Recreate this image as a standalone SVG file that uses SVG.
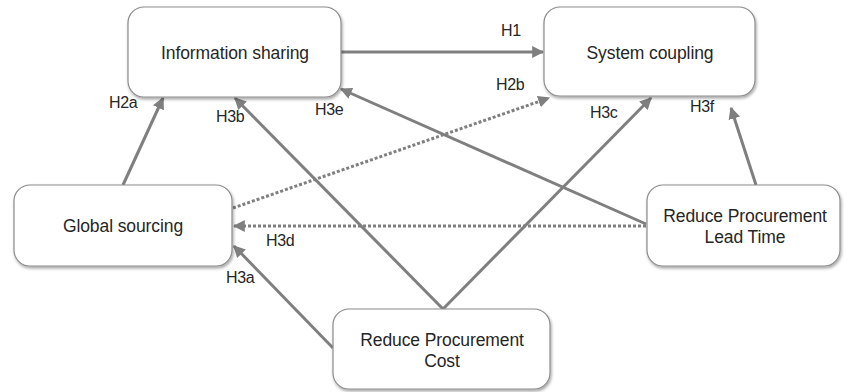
<svg xmlns="http://www.w3.org/2000/svg" width="852" height="392" viewBox="0 0 852 392">
<defs>
<marker id="ah" viewBox="0 0 10 10" refX="9" refY="5" markerWidth="4" markerHeight="4" orient="auto" markerUnits="strokeWidth">
<path d="M0,0 L10,5 L0,10 z" fill="#7f7f7f"/>
</marker>
<filter id="sh" x="-10%" y="-10%" width="120%" height="130%">
<feDropShadow dx="1" dy="2" stdDeviation="1.5" flood-color="#000" flood-opacity="0.35"/>
</filter>
<style>
.box{fill:#fff;stroke:#8c8c8c;stroke-width:1.2;filter:url(#sh)}
.t{font-family:"Liberation Sans",Arial,sans-serif;font-size:17.5px;fill:#262626;text-anchor:middle;letter-spacing:-0.1px}
.l{font-family:"Liberation Sans",Arial,sans-serif;font-size:16px;fill:#262626;letter-spacing:-0.3px}
.c{stroke:#7f7f7f;stroke-width:3;fill:none;marker-end:url(#ah)}
.d{stroke-dasharray:3 2}
</style>
</defs>
<rect width="852" height="392" fill="#fff"/>
<g id="connectors">
<line class="c" x1="341" y1="52" x2="543" y2="52"/>
<line class="c" x1="123" y1="185" x2="163" y2="98"/>
<line class="c" x1="443" y1="309" x2="235" y2="98"/>
<line class="c" x1="646" y1="224" x2="341" y2="89"/>
<line class="c d" x1="233" y1="208" x2="549" y2="98"/>
<line class="c" x1="443" y1="309" x2="651" y2="98"/>
<line class="c" x1="756" y1="185" x2="731" y2="108"/>
<line class="c d" x1="646" y1="226" x2="234" y2="226"/>
<line class="c" x1="333" y1="348" x2="234" y2="246"/>
</g>
<g id="labels">
<text class="l" x="501" y="36">H1</text>
<text class="l" x="496" y="90">H2b</text>
<text class="l" x="109" y="108">H2a</text>
<text class="l" x="216" y="122">H3b</text>
<text class="l" x="315" y="115">H3e</text>
<text class="l" x="590" y="118">H3c</text>
<text class="l" x="690" y="112">H3f</text>
<text class="l" x="266" y="246">H3d</text>
<text class="l" x="226" y="283">H3a</text>
</g>
<g id="info-sharing">
<rect class="box" x="128" y="7" width="213" height="90" rx="16"/>
<text class="t" x="235" y="59">Information sharing</text>
</g>
<g id="system-coupling">
<rect class="box" x="544" y="7" width="211" height="89" rx="16"/>
<text class="t" x="650" y="59">System coupling</text>
</g>
<g id="global-sourcing">
<rect class="box" x="14" y="185" width="218" height="81" rx="16"/>
<text class="t" x="123" y="232">Global sourcing</text>
</g>
<g id="lead-time">
<rect class="box" x="647" y="185" width="193" height="81" rx="16"/>
<text class="t" x="745" y="222">Reduce Procurement</text>
<text class="t" x="745" y="243">Lead Time</text>
</g>
<g id="cost">
<rect class="box" x="333" y="309" width="217" height="80" rx="16"/>
<text class="t" x="442" y="346">Reduce Procurement</text>
<text class="t" x="442" y="367">Cost</text>
</g>
</svg>
